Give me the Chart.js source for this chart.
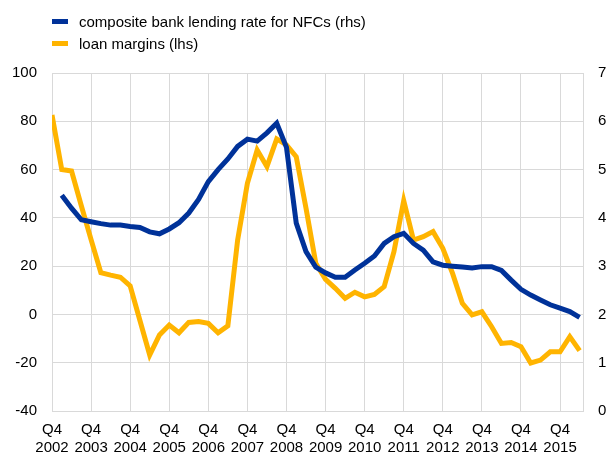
<!DOCTYPE html>
<html>
<head>
<meta charset="utf-8">
<script src="https://cdn.jsdelivr.net/npm/chart.js@4.4.1/dist/chart.umd.min.js"></script>
<style>
  html, body { margin: 0; padding: 0; background: #fff; }
  #wrap { position: relative; width: 606px; height: 454px; }
  #legend { position: absolute; left: 52px; top: 10px; font-family: "Liberation Sans", Arial, sans-serif; font-size: 15px; color: #000; }
  .item { display: flex; align-items: center; height: 22px; }
  .swatch { width: 16px; height: 5px; margin-right: 11px; }
</style>
</head>
<body>
<div id="wrap">
  <canvas id="chart"></canvas>
  <div id="legend"></div>
</div>
<script>
// quarters from 2002Q4 to 2016Q2
const quarters = [
  "2002Q4",
  "2003Q1", "2003Q2", "2003Q3", "2003Q4",
  "2004Q1", "2004Q2", "2004Q3", "2004Q4",
  "2005Q1", "2005Q2", "2005Q3", "2005Q4",
  "2006Q1", "2006Q2", "2006Q3", "2006Q4",
  "2007Q1", "2007Q2", "2007Q3", "2007Q4",
  "2008Q1", "2008Q2", "2008Q3", "2008Q4",
  "2009Q1", "2009Q2", "2009Q3", "2009Q4",
  "2010Q1", "2010Q2", "2010Q3", "2010Q4",
  "2011Q1", "2011Q2", "2011Q3", "2011Q4",
  "2012Q1", "2012Q2", "2012Q3", "2012Q4",
  "2013Q1", "2013Q2", "2013Q3", "2013Q4",
  "2014Q1", "2014Q2", "2014Q3", "2014Q4",
  "2015Q1", "2015Q2", "2015Q3", "2015Q4",
  "2016Q1", "2016Q2"
];

// composite bank lending rate for NFCs (rhs, %)
const lendingRate = [
  null,
  4.47, 4.2, 3.96, 3.92,
  3.88, 3.85, 3.85, 3.82,
  3.80, 3.71, 3.67, 3.77,
  3.9, 4.1, 4.38, 4.75,
  5.0, 5.22, 5.48, 5.63,
  5.59, 5.76, 5.96, 5.46,
  3.89, 3.3, 2.98, 2.86,
  2.77, 2.77, 2.92, 3.06,
  3.21, 3.47, 3.61, 3.68,
  3.47, 3.33, 3.09, 3.02,
  3.0, 2.98, 2.96, 2.99,
  2.99, 2.91, 2.71, 2.52,
  2.40, 2.30, 2.20, 2.13,
  2.06, 1.94
];

// loan margins (lhs, basis points)
const loanMargins = [
  82.6,
  60, 59.4, 45, 31,
  17.3, 16.3, 15.4, 11.8,
  -2.5, -16.8, -8.5, -4.4,
  -7.6, -3.3, -2.9, -3.7,
  -7.6, -4.7, 30.8, 54.3,
  68.1, 61.2, 72.7, 70.2,
  65.3, 44, 21.2, 14.5,
  10.8, 6.7, 9.2, 7.3,
  8.3, 11.5, 26, 47.1,
  30.8, 32.2, 34.3, 27.4,
  17.0, 4.6, -0.2, 1.1,
  -5.1, -12.0, -11.6, -13.4,
  -20.1, -18.9, -15.5, -15.5,
  -9.2, -15.0
];

const seriesNames = ["composite bank lending rate for NFCs (rhs)", "loan margins (lhs)"];
const seriesColors = ["#003299", "#FFB400"];

const leftTicks = [-40, -20, 0, 20, 40, 60, 80, 100];
const rightTicks = [0, 1, 2, 3, 4, 5, 6, 7];

const gridColor = "#d9d9d9";
const tickFont = { family: "'Liberation Sans', Arial, sans-serif", size: 15 };

const toPoints = (arr) => arr.map((v, i) => ({ x: i, y: v }));
const q4Positions = quarters.map((q, i) => (q.endsWith("Q4") ? i : null)).filter((v) => v !== null);

// html legend, stacked like the original
const legendEl = document.getElementById("legend");
seriesNames.forEach((name, i) => {
  const row = document.createElement("div");
  row.className = "item";
  row.innerHTML = '<span class="swatch" style="background:' + seriesColors[i] + '"></span><span>' + name + "</span>";
  legendEl.appendChild(row);
});

new Chart(document.getElementById("chart"), {
  type: "line",
  data: {
    datasets: [
      {
        label: seriesNames[0],
        data: toPoints(lendingRate),
        yAxisID: "y1",
        borderColor: seriesColors[0],
        backgroundColor: seriesColors[0],
        borderWidth: 5,
        pointRadius: 0,
        tension: 0,
        spanGaps: false,
      },
      {
        label: seriesNames[1],
        data: toPoints(loanMargins),
        yAxisID: "y",
        borderColor: seriesColors[1],
        backgroundColor: seriesColors[1],
        borderWidth: 5,
        pointRadius: 0,
        tension: 0,
      },
    ],
  },
  options: {
    responsive: true,
    maintainAspectRatio: false,
    animation: false,
    layout: { padding: { top: 73, left: 0, right: 0, bottom: 0 } },
    plugins: {
      legend: { display: false },
      tooltip: { enabled: false },
    },
    scales: {
      x: {
        type: "linear",
        min: 0,
        max: quarters.length - 1 + 0.35,
        afterBuildTicks: (scale) => {
          scale.ticks = q4Positions.map((v) => ({ value: v }));
        },
        afterFit: (scale) => {
          scale.height = 43;
        },
        grid: { color: gridColor, lineWidth: 1, drawTicks: false },
        border: { color: gridColor },
        ticks: {
          font: tickFont,
          color: "#000",
          padding: 10,
          maxRotation: 0,
          autoSkip: false,
          callback: (v) => {
            const q = quarters[v];
            return q ? [q.slice(4), q.slice(0, 4)] : "";
          },
        },
      },
      y: {
        position: "left",
        min: leftTicks[0],
        max: leftTicks[leftTicks.length - 1],
        afterBuildTicks: (scale) => {
          scale.ticks = leftTicks.map((v) => ({ value: v }));
        },
        afterFit: (scale) => {
          scale.width = 52;
        },
        grid: { color: gridColor, lineWidth: 1, drawTicks: false },
        border: { color: gridColor },
        ticks: { font: tickFont, color: "#000", padding: 15 },
      },
      y1: {
        position: "right",
        min: rightTicks[0],
        max: rightTicks[rightTicks.length - 1],
        afterBuildTicks: (scale) => {
          scale.ticks = rightTicks.map((v) => ({ value: v }));
        },
        afterFit: (scale) => {
          scale.width = 23;
        },
        grid: { drawOnChartArea: false, drawTicks: false },
        border: { color: gridColor },
        ticks: { font: tickFont, color: "#000", padding: 15 },
      },
    },
  },
});
</script>
</body>
</html>
